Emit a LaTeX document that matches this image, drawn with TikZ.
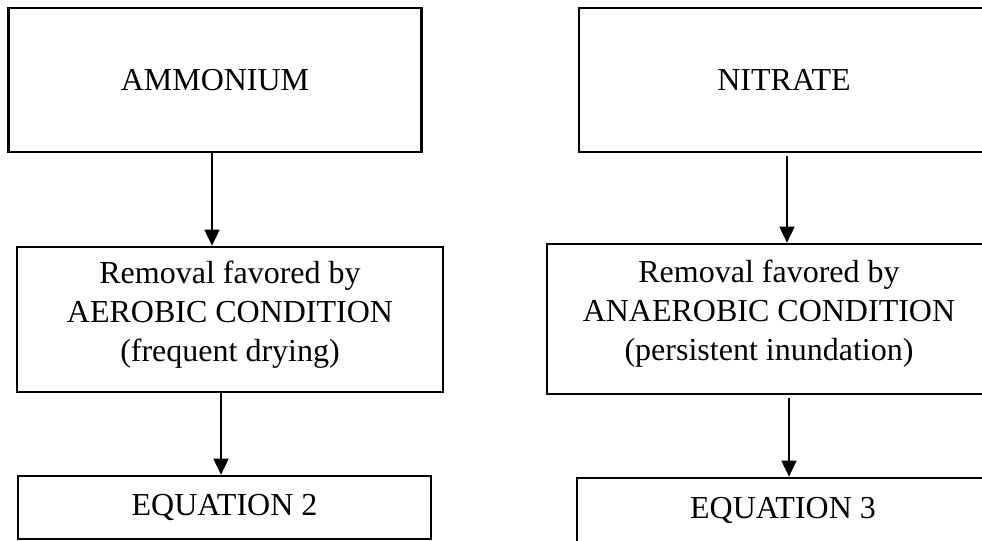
\documentclass[tikz,border=0pt]{standalone}
\usepackage{fontspec}
\setmainfont{Liberation Serif}
\usetikzlibrary{arrows.meta}

\begin{document}
\begin{tikzpicture}[x=0.5pt,y=-0.5pt,>={Triangle[width=7.5pt,length=8pt]},
	box/.style={draw,line width=1.35pt,align=center,inner sep=0pt,font=\fontsize{16}{19.5}\selectfont},
	flow/.style={->,line width=0.9pt}]
			\useasboundingbox (0,0) rectangle (982,541);
			\clip (0,0) rectangle (982,541);
			
			\node[box,minimum width=206.5pt,minimum height=72pt] (amm) at (215,80) {AMMONIUM};
			\node[box,minimum width=213pt,minimum height=72.5pt] (aer) at (230,319.5) {Removal favored by\\AEROBIC CONDITION\\(frequent drying)\rule[-8.5pt]{0pt}{0pt}};
			\node[box,minimum width=206.5pt,minimum height=31.5pt] (eqtwo) at (224.5,507.5) {EQUATION 2};
			
			\node[box,minimum width=205pt,minimum height=72pt] (nit) at (784,80) {NITRATE};
			\node[box,minimum width=222pt,minimum height=75pt] (ana) at (769,319) {Removal favored by\\ANAEROBIC CONDITION\\(persistent inundation)\rule[-8.5pt]{0pt}{0pt}};
			\node[box,minimum width=206pt,minimum height=32pt] (eqthree) at (783,510) {EQUATION 3};
			
			\draw[flow] ([xshift=-1.5pt]amm.south) -- ([xshift=-9pt]aer.north);
			\draw[flow] ([xshift=-4.5pt]aer.south) -- ([xshift=-1.75pt]eqtwo.north);
			\draw[flow,shorten <=1.5pt] ([xshift=1.5pt]nit.south) -- ([xshift=9pt]ana.north);
			\draw[flow,shorten <=1.5pt] ([xshift=10pt]ana.south) -- ([xshift=3pt]eqthree.north);
		\end{tikzpicture}
\end{document}
